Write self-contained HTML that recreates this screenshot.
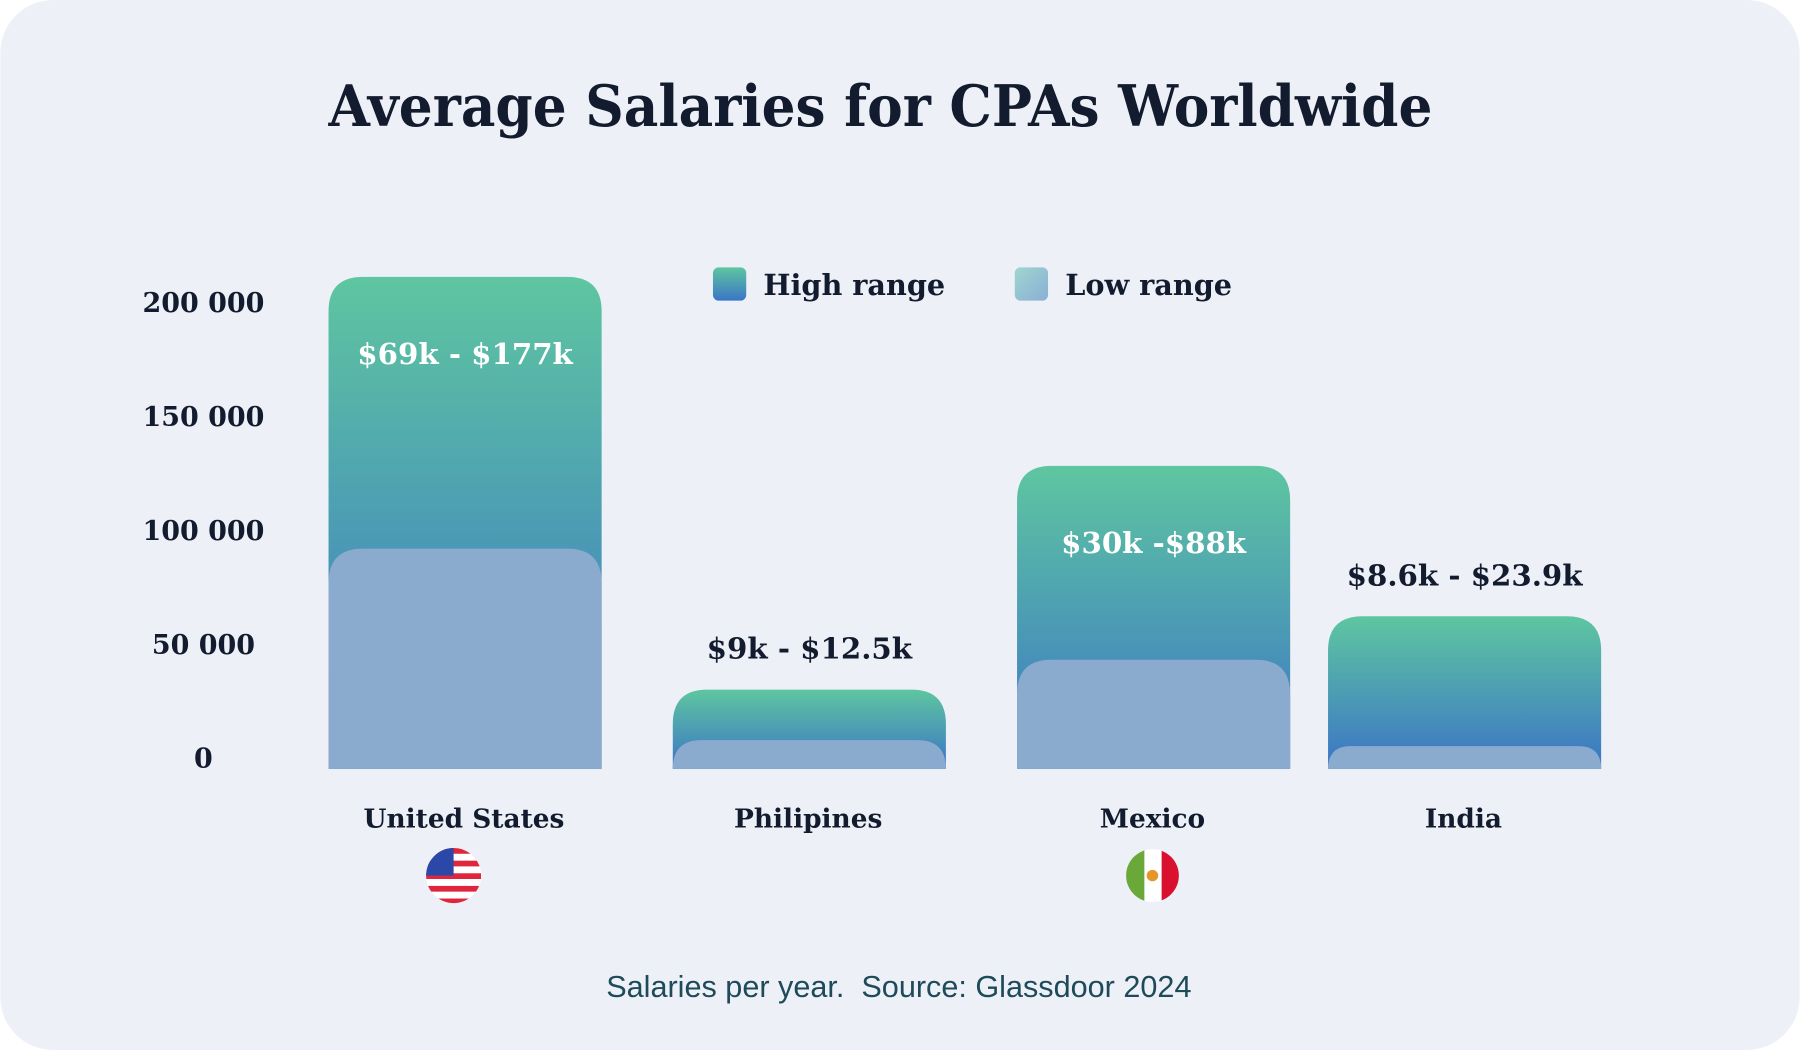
<!DOCTYPE html>
<html><head><meta charset="utf-8"><style>
html,body{margin:0;padding:0;background:#fff;}
svg{display:block;}
.serif{font-family:"DejaVu Serif","Liberation Serif",serif;font-weight:bold;}
</style></head><body>
<svg id="chart" width="1800" height="1050" viewBox="0 0 1568 915" xmlns="http://www.w3.org/2000/svg">
<defs>
<linearGradient id="hg" x1="0" y1="0" x2="0" y2="1">
<stop offset="0" stop-color="#5ec6a0"/><stop offset="1" stop-color="#3b74c6"/>
</linearGradient>
<linearGradient id="lg" x1="0" y1="0" x2="1" y2="1">
<stop offset="0" stop-color="#9fd6d0"/><stop offset="1" stop-color="#8aaed6"/>
</linearGradient>
</defs>
<rect x="0" y="0" width="1568" height="915" rx="46" fill="#edf1f7"/>
<text x="767" y="110" text-anchor="middle" class="serif" font-size="50" fill="#131b2e" textLength="962" lengthAdjust="spacingAndGlyphs">Average Salaries for CPAs Worldwide</text>
<g>
<rect x="621" y="233" width="29" height="29" rx="5" fill="url(#hg)"/>
<text x="665" y="257" class="serif" font-size="25" fill="#131b2e">High range</text>
<rect x="884" y="233" width="29" height="29" rx="5" fill="url(#lg)"/>
<text x="928" y="257" class="serif" font-size="25" fill="#131b2e">Low range</text>
</g>
<g id="yaxis"></g>
<g id="bars"></g>
<g>
<clipPath id="cu"><circle cx="395" cy="763" r="24"/></clipPath>
<g clip-path="url(#cu)">
<rect x="371" y="739" width="48" height="48" fill="#fff"/>
<rect x="371" y="739" width="48" height="5" fill="#e0263c"/><rect x="371" y="750" width="48" height="5" fill="#e0263c"/>
<rect x="371" y="761" width="48" height="5" fill="#e0263c"/><rect x="371" y="772" width="48" height="5" fill="#e0263c"/>
<rect x="371" y="783" width="48" height="5" fill="#e0263c"/>
<rect x="371" y="739" width="24" height="24" fill="#2b47a8"/>
</g></g>
<g>
<clipPath id="cm"><circle cx="1004" cy="763" r="23"/></clipPath>
<g clip-path="url(#cm)">
<rect x="981" y="740" width="16" height="46" fill="#6aa83a"/>
<rect x="997" y="740" width="15" height="46" fill="#fff"/>
<rect x="1012" y="740" width="16" height="46" fill="#d9102e"/>
<circle cx="1004" cy="763" r="5" fill="#e6952a"/>
</g></g>
<text x="783" y="869" text-anchor="middle" xml:space="preserve" font-family="Liberation Sans, sans-serif" font-size="27" fill="#1e4a5a" textLength="510" lengthAdjust="spacingAndGlyphs">Salaries per year.  Source: Glassdoor 2024</text>
<script>
const categories = ["United States","Philipines","Mexico","India"];
const highValues = [216000, 34800, 133000, 67000];
const lowValues = [96700, 12600, 47900, 10000];
const rangeLabels = ["$69k - $177k","$9k - $12.5k","$30k -$88k","$8.6k - $23.9k"];
const yTicks = [0, 50000, 100000, 150000, 200000];
const yTickLabels = ["0","50 000","100 000","150 000","200 000"];

const NS = "http://www.w3.org/2000/svg";
const y0 = 670, yPerUnit = 397/200000;
const y = v => y0 - v*yPerUnit;
const barX = [286, 586, 886, 1157], barW = 238;
function mk(tag, attrs, parent){const e=document.createElementNS(NS,tag);for(const k in attrs)e.setAttribute(k,attrs[k]);parent.appendChild(e);return e;}
function topRounded(x,top,w,bottom,r){r=Math.min(r,(bottom-top),w/2);return `M${x},${bottom}V${top+r}Q${x},${top} ${x+r},${top}H${x+w-r}Q${x+w},${top} ${x+w},${top+r}V${bottom}Z`;}
const ya=document.getElementById('yaxis');
yTicks.forEach((t,i)=>{
  const e=mk('text',{x:177,y:y(t)-1,'text-anchor':'middle','class':'serif','font-size':23.5,fill:'#131b2e'},ya);
  e.textContent=yTickLabels[i];
  
  
});
const bg=document.getElementById('bars');
categories.forEach((c,i)=>{
  const x=barX[i];
  const hb=mk('path',{d:topRounded(x,y(highValues[i]),barW,y0,30),fill:'url(#hg)'},bg);
  
  
  const lb=mk('path',{d:topRounded(x,y(lowValues[i]),barW,y0,30),fill:'#8aabcd'},bg);
  
  
  const top=y(highValues[i]);
  const inside = (y0-top) > 150;
  const vl=mk('text',{x:x+barW/2,y: inside? top+76 : top-27,'text-anchor':'middle','class':'serif','font-size':25.5,fill: inside?'#ffffff':'#131b2e'},bg);
  vl.textContent=rangeLabels[i];
  
  
  const cl=mk('text',{x:x+barW/2-1,y:721,'text-anchor':'middle','class':'serif','font-size':23,fill:'#131b2e'},bg);
  cl.textContent=c;
  
  
});
</script>
</svg>
</body></html>
